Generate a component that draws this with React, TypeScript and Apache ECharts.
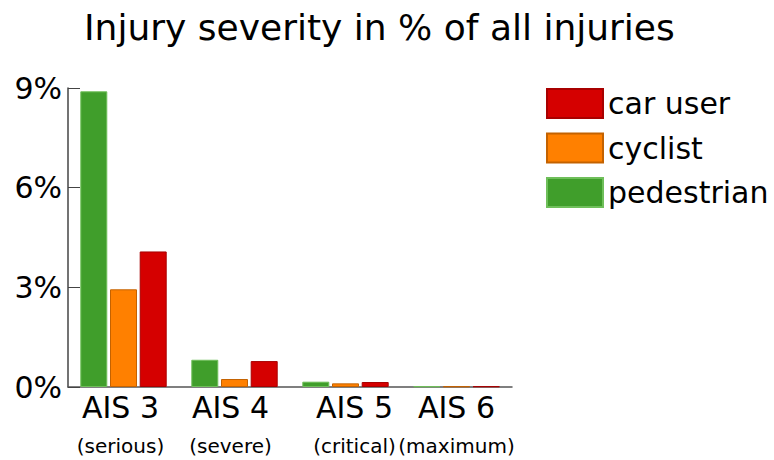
import React, { useEffect, useRef } from "react";
import * as echarts from "echarts";

const categories = ["AIS 3", "AIS 4", "AIS 5", "AIS 6"];
const subLabels = ["(serious)", "(severe)", "(critical)", "(maximum)"];
const pedestrian = [8.9, 0.82, 0.16, 0.02];
const cyclist = [2.94, 0.24, 0.11, 0.02];
const carUser = [4.08, 0.78, 0.15, 0.02];
const yTicks = [0, 3, 6, 9];

const FONT = "DejaVu Sans";
const labelShift = [-3, -4, 9, 0];

export default function App() {
  const ref = useRef<HTMLDivElement>(null);
  useEffect(() => {
    const chart = echarts.init(ref.current!, null, { renderer: "svg" });
    const mk = (name: string, data: number[], color: string, border: string) => ({
      name,
      type: "bar",
      data,
      barWidth: 27,
      barGap: "10%",
      itemStyle: { color, borderColor: border, borderWidth: 1 },
    });
    const rich: Record<string, any> = {};
    labelShift.forEach((s, i) => {
      const pad = s >= 0 ? [0, 0, 0, 2 * s] : [0, -2 * s, 0, 0];
      rich["a" + i] = { fontFamily: FONT, fontSize: 30, lineHeight: 36, color: "#000", padding: pad };
      rich["b" + i] = { fontFamily: FONT, fontSize: 20, lineHeight: 42, color: "#000", padding: pad };
    });
    chart.setOption({
      animation: false,
      backgroundColor: "#ffffff",
      title: {
        text: "Injury severity in % of all injuries",
        left: 79,
        top: 4,
        textStyle: { fontFamily: FONT, fontSize: 36, fontWeight: "normal", color: "#000" },
      },
      legend: {
        orient: "vertical",
        left: 546,
        top: 88,
        padding: 0,
        itemWidth: 56,
        itemHeight: 29,
        itemGap: 13.5,
        data: ["car user", "cyclist", "pedestrian"],
        icon: "rect",
        textStyle: { fontFamily: FONT, fontSize: 30, lineHeight: 29, color: "#000" },
      },
      grid: { left: 68, right: 262, top: 88, bottom: 73, containLabel: false },
      xAxis: {
        type: "category",
        data: categories,
        axisLine: { lineStyle: { color: "#555", width: 1.5 } },
        axisTick: { inside: true, length: 7, lineStyle: { color: "#555" } },
        axisLabel: {
          margin: 2,
          interval: 0,
          formatter: (v: string, i: number) => `{a${i}|${v}}\n{b${i}|${subLabels[i]}}`,
          rich,
        },
      },
      yAxis: {
        type: "value",
        min: yTicks[0],
        max: yTicks[yTicks.length - 1],
        interval: 3,
        splitLine: { show: false },
        axisLine: { show: true, lineStyle: { color: "#444", width: 1.5 } },
        axisTick: { show: true, inside: true, length: 12, lineStyle: { color: "#444" } },
        axisLabel: {
          margin: 6,
          formatter: "{value}%",
          fontFamily: FONT,
          fontSize: 30,
          color: "#000",
        },
      },
      series: [
        mk("pedestrian", pedestrian, "#409e2b", "#6fbf5a"),
        mk("cyclist", cyclist, "#ff8000", "#c46200"),
        mk("car user", carUser, "#d50000", "#a80000"),
      ],
    });
    return () => chart.dispose();
  }, []);
  return <div ref={ref} style={{ width: 774, height: 460, position: "absolute", left: 0, top: 0 }} />;
}
